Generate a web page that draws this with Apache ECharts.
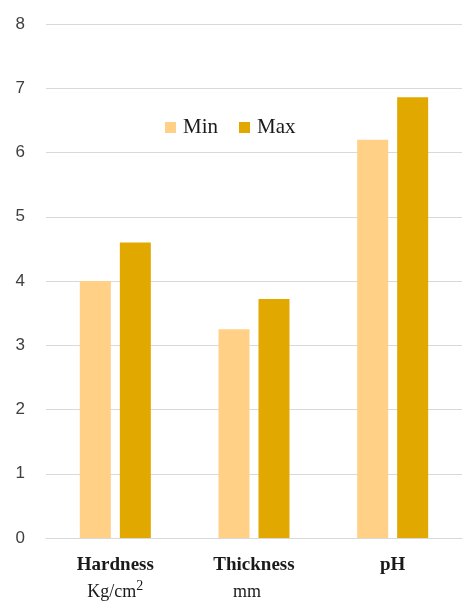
<!DOCTYPE html>
<html><head><meta charset="utf-8">
<script src="https://cdn.jsdelivr.net/npm/echarts@6/dist/echarts.min.js"></script>
<style>html,body{margin:0;padding:0;background:#fff}#c{width:468px;height:601px}</style>
</head><body><div id="c"></div>
<script>
const categories = ['Hardness', 'Thickness', 'pH'];
const units = ['Kg/cm', 'mm', ''];
const unitSup = ['2', '', ''];
const minValues = [4.0, 3.25, 6.2];
const maxValues = [4.6, 3.72, 6.86];
const seriesNames = ['Min', 'Max'];

const chart = echarts.init(document.getElementById('c'), null, {renderer: 'canvas'});
chart.setOption({
  animation: false,
  backgroundColor: '#fff',
  legend: {
    left: 160, top: 112,
    itemWidth: 11, itemHeight: 11, itemGap: 21,
    icon: 'rect',
    textStyle: {fontFamily: 'Liberation Serif', fontSize: 21, color: '#1a1a1a', padding: [0,0,0,2]},
    data: seriesNames
  },
  grid: {left: 46, right: 6, top: 24, bottom: 63, outerBoundsMode: 'none', containLabel: false},
  xAxis: {
    type: 'category',
    data: categories,
    axisLine: {lineStyle: {color: '#d9d9d9'}},
    axisTick: {show: false},
    axisLabel: {
      margin: 14,
      formatter: function (v, i) {
        const u = units[i];
        if (!u) return '{b|' + v + '}';
        const s = unitSup[i] ? '{s|' + unitSup[i] + '}' : '';
        const st = i === 1 ? 'm' : 'u';
        return '{b|' + v + '}\n{' + st + '|' + u + '}' + s;
      },
      rich: {
        b: {fontFamily: 'Liberation Serif', fontWeight: 'bold', fontSize: 19, color: '#1a1a1a', lineHeight: 27},
        u: {fontFamily: 'Liberation Serif', fontSize: 18, color: '#1a1a1a', lineHeight: 27},
        m: {fontFamily: 'Liberation Serif', fontSize: 18, color: '#1a1a1a', lineHeight: 27, padding: [0,14,0,0]},
        s: {fontFamily: 'Liberation Serif', fontSize: 14, color: '#1a1a1a', lineHeight: 27, verticalAlign: 'top', padding: [0,0,8,0]}
      }
    }
  },
  yAxis: {
    type: 'value', min: 0, max: 8, interval: 1,
    axisLine: {show: false}, axisTick: {show: false},
    splitLine: {lineStyle: {color: '#d9d9d9', width: 1}},
    axisLabel: {margin: 21, fontFamily: 'Liberation Sans', fontSize: 17, color: '#404040'}
  },
  series: [
    {name: seriesNames[0], type: 'bar', data: minValues, barWidth: 31, barGap: '29%',
     itemStyle: {color: '#FFD086'}},
    {name: seriesNames[1], type: 'bar', data: maxValues, barWidth: 31,
     itemStyle: {color: '#E1A900'}}
  ]
});
</script></body></html>
